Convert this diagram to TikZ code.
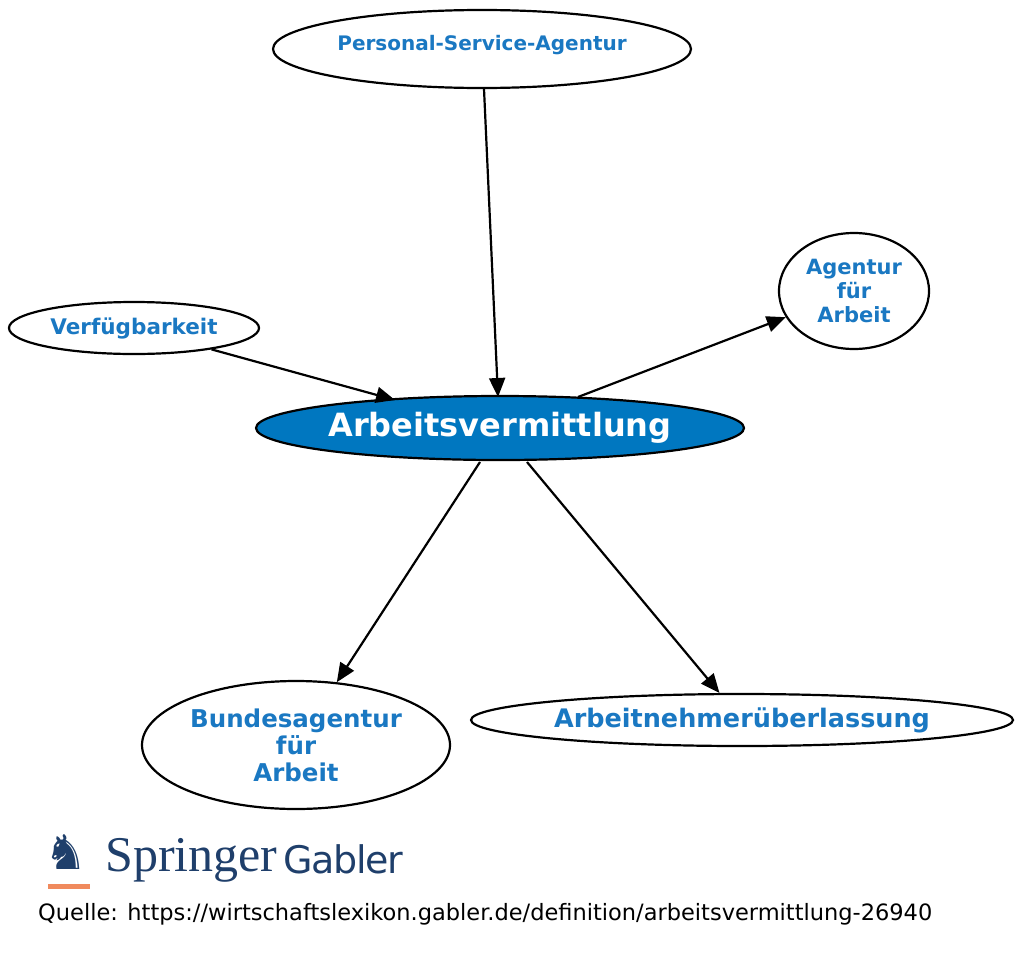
\documentclass[tikz,border=0pt]{standalone}
\usepackage{fontspec}
\setmainfont{DejaVu Sans}
\newfontfamily\serifx{Liberation Serif}
\usetikzlibrary{shapes.geometric,arrows.meta}
\definecolor{lblue}{HTML}{1A78C2}
\definecolor{fblue}{HTML}{0077C0}
\definecolor{sdark}{HTML}{1F3F6B}
\definecolor{sorange}{HTML}{F08A5D}
\begin{document}
\begin{tikzpicture}[x=1pt,y=-1pt,
  ell/.style={ellipse,draw=black,line width=2.2pt,inner sep=0pt,align=center,text=lblue,fill=white},
  edge/.style={line width=2.2pt,-{Triangle[length=19pt,width=16pt]}}]
\useasboundingbox (0,0) rectangle (1024,953);
\node[ell,minimum width=418,minimum height=78,font=\bfseries\fontsize{20}{24}\selectfont] (psa) at (482,49) {\raisebox{12pt}{Personal-Service-Agentur}};
\node[ell,minimum width=250,minimum height=52,font=\bfseries\fontsize{21.5}{25}\selectfont] (vf) at (134,328) {Verfügbarkeit};
\node[ell,minimum width=150,minimum height=116,font=\bfseries\fontsize{21}{24}\selectfont] (afa) at (854,291) {Agentur\\für\\Arbeit};
\node[ell,minimum width=488,minimum height=64,fill=fblue,text=white,font=\bfseries\fontsize{32}{36}\selectfont] (av) at (500,428) {Arbeitsvermittlung};
\node[ell,minimum width=308,minimum height=128,font=\bfseries\fontsize{24.5}{27}\selectfont] (ba) at (296,745) {Bundesagentur\\für\\Arbeit};
\node[ell,minimum width=542,minimum height=52,font=\bfseries\fontsize{25.5}{28}\selectfont] (anu) at (742,720) {Arbeitnehmerüberlassung};
\draw[edge] (psa.south) ++(2,0) coordinate (p1) -- (498,397);
\draw[edge] (vf) -- (395,400);
\draw[edge] (578,397) -- (afa);
\draw[edge] (480,462) -- (ba);
\draw[edge] (527,462) -- (anu);
\node[anchor=west,text=sdark,font=\serifx\fontsize{50}{54}\selectfont,inner sep=0pt] (spr) at (105,860) {Springer};
\node[anchor=west,text=sdark,font=\fontsize{38}{42}\selectfont\addfontfeature{LetterSpace=-4},inner sep=0pt] (gab) at ([xshift=6pt,yshift=1pt]spr.east) {Gabler};
\node[text=sdark,font=\fontsize{48}{52}\selectfont] (horse) at (66,852) {♞};
\fill[sorange] (48,884) rectangle (90,889);
\node[anchor=west,font=\fontsize{22.5}{26}\selectfont,inner sep=0pt] (q) at (38,914) {Quelle: https://wirtschaftslexikon.gabler.de/definition/arbeitsvermittlung-26940};
\end{tikzpicture}
\end{document}
